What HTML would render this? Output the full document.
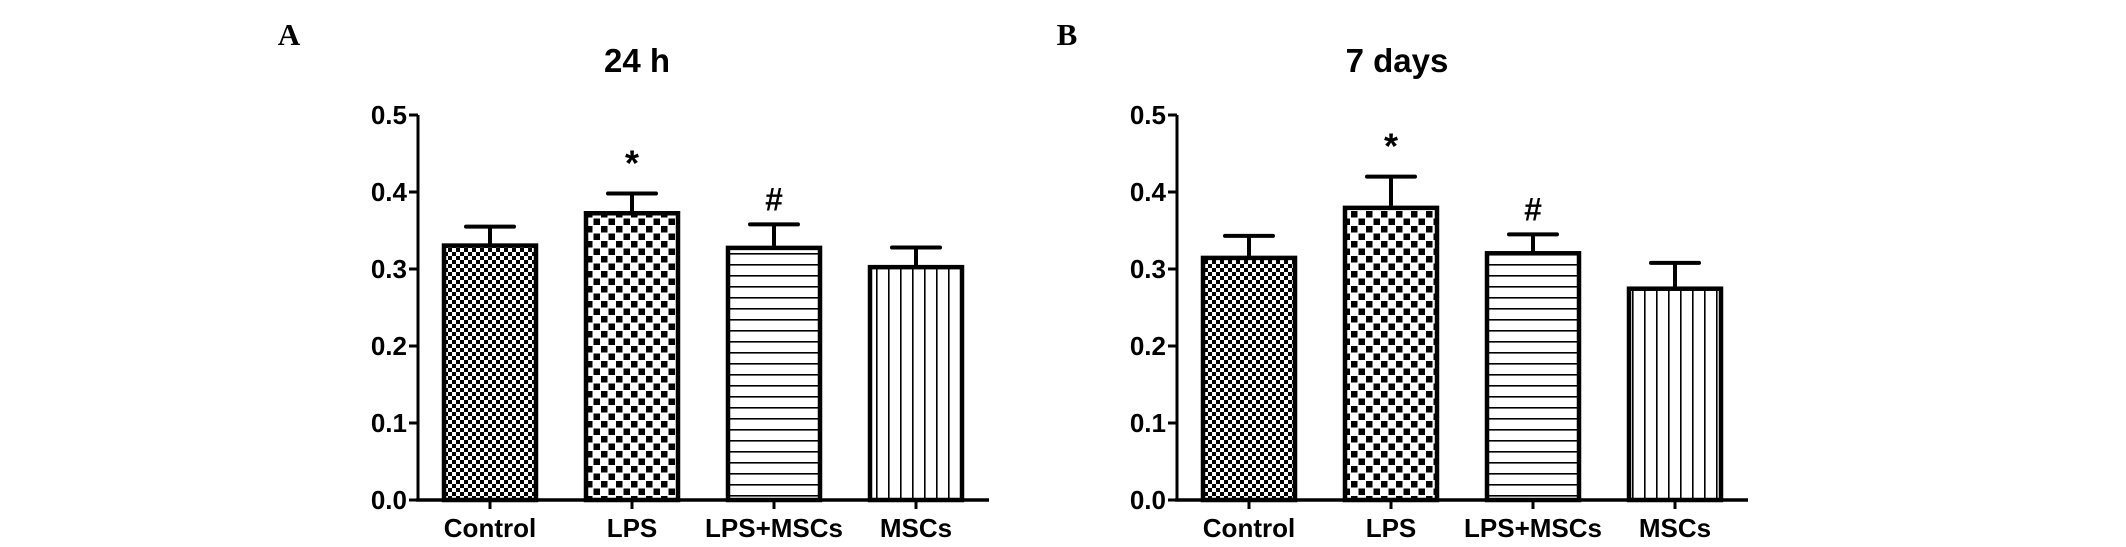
<!DOCTYPE html>
<html><head><meta charset="utf-8"><style>
html,body{margin:0;padding:0;background:#fff;}
svg{display:block;}
text{font-family:"Liberation Sans",Arial,sans-serif;font-weight:bold;fill:#000;}
</style></head><body>
<svg id="chart" width="2126" height="547" viewBox="0 0 2126 547">
<defs>
<pattern id="pFine" width="8" height="8" patternUnits="userSpaceOnUse"><rect width="8" height="8" fill="#fff"/><rect width="4" height="4" fill="#000"/><rect x="4" y="4" width="4" height="4" fill="#000"/></pattern>
<pattern id="pCoarse" width="15" height="15" patternUnits="userSpaceOnUse"><rect width="15" height="15" fill="#fff"/><rect x="1" y="1" width="6.5" height="6.5" fill="#000"/><rect x="8.5" y="8.5" width="6.5" height="6.5" fill="#000"/></pattern>
<pattern id="pHoriz" width="10" height="11" patternUnits="userSpaceOnUse"><rect width="10" height="11" fill="#fff"/><rect y="0" width="10" height="1.6" fill="#000"/></pattern>
<pattern id="pVert" width="12" height="10" patternUnits="userSpaceOnUse"><rect width="12" height="10" fill="#fff"/><rect x="0" width="1.6" height="10" fill="#000"/></pattern>
</defs>
<text x="289" y="45" font-size="31" style="font-family:'Liberation Serif',serif" text-anchor="middle">A</text>
<text x="1067" y="45" font-size="31" style="font-family:'Liberation Serif',serif" text-anchor="middle">B</text>
</svg>
<script>
const categories = ["Control","LPS","LPS+MSCs","MSCs"];
const valuesA = [0.333, 0.375, 0.330, 0.305];
const errorsA = [0.022, 0.023, 0.028, 0.023];
const valuesB = [0.317, 0.382, 0.323, 0.277];
const errorsB = [0.026, 0.038, 0.022, 0.031];
const marksA = ["", "*", "#", ""];
const marksB = ["", "*", "#", ""];
const yTicks = [0.0, 0.1, 0.2, 0.3, 0.4, 0.5];
const yTickLabels = ["0.0","0.1","0.2","0.3","0.4","0.5"];
const patterns = ["url(#pFine)","url(#pCoarse)","url(#pHoriz)","url(#pVert)"];

const NS = "http://www.w3.org/2000/svg";
const svg = document.getElementById('chart');
function mk(tag, attrs, parent){
  const e = document.createElementNS(NS, tag);
  for (const k in attrs) e.setAttribute(k, attrs[k]);
  (parent||svg).appendChild(e);
  return e;
}
function panel(id, axisX, title, titleX, values, errors, marks){
  const g = mk('g', {});
  
  
  const y0 = 500, y1 = 115;
  const yScale = v => y0 - (v/0.5)*(y0-y1);
  const firstLeft = axisX + 24, step = 142, bw = 96;
  const xLeft = i => firstLeft + i*step;
  const t = mk('text', {x:titleX, y:72, 'font-size':33, 'text-anchor':'middle'}, g);
  t.textContent = title;
  
  
  const ya = mk('line', {x1:axisX, y1:y1, x2:axisX, y2:y0, stroke:'#000','stroke-width':3}, g);
  
  
  yTicks.forEach((v,i)=>{
    const y = yScale(v);
    mk('line', {x1:axisX-9, y1:y, x2:axisX, y2:y, stroke:'#000','stroke-width':3}, g);
    const lt = mk('text', {x:axisX-11, y:y+9, 'font-size':26, 'text-anchor':'end'}, g);
    lt.textContent = yTickLabels[i];
    
    
  });
  const xEnd = xLeft(categories.length-1) + bw + 25;
  const xa = mk('line', {x1:axisX-2, y1:y0, x2:xEnd, y2:y0, stroke:'#000','stroke-width':3.5}, g);
  
  
  categories.forEach((c,i)=>{
    const xl = xLeft(i), cx = xl + bw/2;
    const top = yScale(values[i]), etop = yScale(values[i]+errors[i]);
    const el = mk('line', {x1:cx, y1:etop, x2:cx, y2:top, stroke:'#000','stroke-width':4}, g);
    
    
    mk('line', {x1:cx-24, y1:etop, x2:cx+24, y2:etop, stroke:'#000','stroke-width':4,'stroke-linecap':'round'}, g);
    const r = mk('rect', {x:xl+2, y:top+2, width:bw-4, height:y0-top-2, fill:patterns[i], stroke:'#000','stroke-width':4.5}, g);
    
    
    mk('line', {x1:cx, y1:y0, x2:cx, y2:y0+9, stroke:'#000','stroke-width':3}, g);
    const xt = mk('text', {x:cx, y:537, 'font-size':26, 'text-anchor':'middle'}, g);
    xt.textContent = c;
    
    
    if (marks[i]) {
      const m = mk('text', {x:cx, y: etop - (marks[i]==='*'?18:14), 'font-size': marks[i]==='*'?36:32, 'text-anchor':'middle'}, g);
      m.textContent = marks[i];
      
      
    }
  });
}
panel('a', 418, '24 h', 637, valuesA, errorsA, marksA);
panel('b', 1177, '7 days', 1397, valuesB, errorsB, marksB);
</script>
</body></html>
